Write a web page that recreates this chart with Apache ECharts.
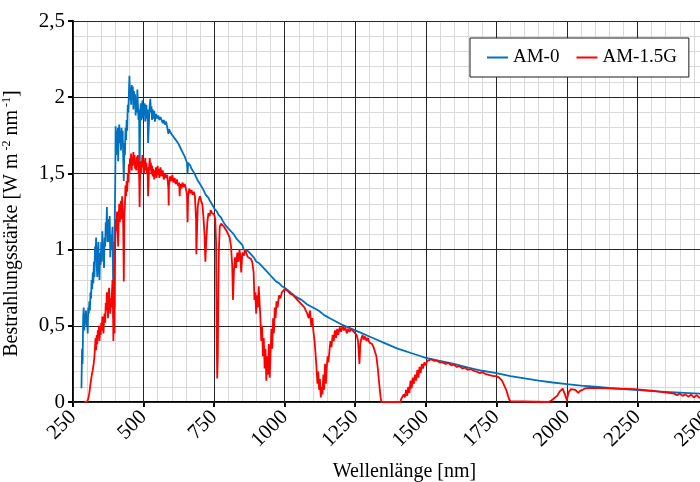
<!DOCTYPE html>
<html>
<head>
<meta charset="utf-8">
<script src="https://cdn.jsdelivr.net/npm/echarts@6/dist/echarts.min.js"></script>
<style>
  html, body { margin: 0; padding: 0; background: #fff; }
  #chart { width: 700px; height: 482px; }
</style>
</head>
<body>
<div id="chart"></div>
<script>
// Solar spectral irradiance, extraterrestrial (AM-0) and global tilt (AM-1.5G)
const seriesNames = ['AM-0', 'AM-1.5G'];
const xTicks = [250, 500, 750, 1000, 1250, 1500, 1750, 2000, 2250, 2500];
const yTicks = [0, 0.5, 1, 1.5, 2, 2.5];

// AM-0 wavelength [nm] and irradiance [W m-2 nm-1]
const am0Wavelength = [
  280, 282, 284, 286, 288, 290, 292, 294, 296, 298, 300, 302, 304, 306, 308, 310,
  312, 314, 316, 318, 320, 322, 324, 326, 328, 330, 332, 334, 336, 338, 340, 342,
  344, 346, 348, 350, 352, 354, 356, 358, 360, 362, 364, 366, 368, 370, 372, 374,
  376, 378, 380, 382, 384, 386, 388, 390, 392, 393, 394, 396, 397, 398, 400, 401,
  403, 405, 407, 409, 410, 412, 414, 416, 418, 420, 422, 424, 426, 428, 430, 432,
  434, 436, 438, 440, 442, 444, 446, 448, 450, 452, 454, 456, 458, 460, 462, 464,
  466, 468, 470, 472, 474, 476, 478, 480, 482, 484, 486, 488, 490, 492, 494, 496,
  498, 500, 502, 504, 506, 508, 510, 512, 514, 516, 518, 520, 522, 524, 526, 528,
  530, 532, 534, 536, 538, 540, 544, 548, 552, 556, 560, 564, 568, 572, 576, 580,
  584, 588, 590, 594, 598, 602, 606, 610, 614, 618, 622, 626, 630, 634, 638, 642,
  646, 650, 654, 656, 658, 662, 666, 670, 675, 680, 685, 690, 695, 700, 705, 710,
  715, 720, 725, 730, 735, 740, 745, 750, 755, 760, 765, 770, 775, 780, 785, 790,
  795, 800, 810, 820, 830, 840, 850, 855, 860, 870, 880, 890, 900, 910, 920, 930,
  940, 950, 960, 970, 980, 990, 1000, 1020, 1040, 1060, 1080, 1100, 1120, 1140,
  1160, 1180, 1200, 1225, 1250, 1275, 1300, 1325, 1350, 1375, 1400, 1425, 1450,
  1475, 1500, 1525, 1550, 1575, 1600, 1650, 1700, 1750, 1800, 1850, 1900, 1950,
  2000, 2050, 2100, 2150, 2200, 2250, 2300, 2350, 2400, 2450, 2500
];
const am0Irradiance = [
  0.09, 0.35, 0.25, 0.55, 0.62, 0.47, 0.58, 0.52, 0.60, 0.50, 0.56, 0.45, 0.62, 0.58, 0.66, 0.60,
  0.72, 0.68, 0.80, 0.74, 0.85, 0.78, 0.92, 0.82, 1.02, 0.95, 1.08, 0.90, 0.82, 0.95, 1.05, 0.88,
  0.80, 0.98, 0.90, 1.05, 0.92, 1.12, 0.96, 1.00, 0.88, 1.08, 1.02, 1.18, 1.10, 1.28, 1.05, 1.15,
  1.20, 1.05, 1.22, 0.95, 1.10, 1.00, 1.08, 1.15, 0.80, 0.55, 1.05, 0.90, 0.62, 1.20, 1.50, 1.81,
  1.62, 1.78, 1.70, 1.80, 1.58, 1.75, 1.82, 1.70, 1.78, 1.65, 1.80, 1.72, 1.78, 1.60, 1.45, 1.70,
  1.62, 1.80, 1.72, 1.85, 1.78, 1.95, 1.90, 2.02, 2.14, 1.98, 2.06, 1.95, 2.08, 2.00, 2.07, 1.92,
  2.04, 1.96, 2.02, 1.88, 1.98, 1.90, 2.05, 1.95, 1.85, 1.92, 1.47, 1.88, 1.96, 1.85, 1.90, 1.98,
  1.86, 1.94, 1.88, 1.96, 1.84, 1.90, 1.95, 1.86, 1.92, 1.70, 1.78, 1.88, 1.95, 1.99, 1.90, 1.94,
  1.85, 1.92, 1.88, 1.86, 1.91, 1.84, 1.89, 1.86, 1.88, 1.85, 1.87, 1.86, 1.83, 1.85, 1.82, 1.84,
  1.80, 1.76, 1.79, 1.78, 1.76, 1.77, 1.74, 1.75, 1.72, 1.73, 1.70, 1.69, 1.67, 1.66, 1.64, 1.63,
  1.61, 1.60, 1.57, 1.50, 1.57, 1.56, 1.55, 1.53, 1.52, 1.50, 1.48, 1.46, 1.45, 1.43, 1.42, 1.40,
  1.39, 1.36, 1.35, 1.34, 1.32, 1.31, 1.29, 1.27, 1.26, 1.25, 1.23, 1.22, 1.21, 1.19, 1.18, 1.16,
  1.15, 1.14, 1.12, 1.10, 1.07, 1.05, 1.03, 1.00, 1.01, 0.99, 0.97, 0.95, 0.92, 0.91, 0.89, 0.87,
  0.85, 0.83, 0.81, 0.79, 0.78, 0.76, 0.75, 0.72, 0.69, 0.67, 0.64, 0.62, 0.60, 0.57,
  0.55, 0.53, 0.51, 0.49, 0.47, 0.45, 0.43, 0.41, 0.39, 0.37, 0.35, 0.335, 0.32,
  0.305, 0.29, 0.28, 0.27, 0.26, 0.25, 0.225, 0.205, 0.19, 0.17, 0.155, 0.14, 0.128,
  0.117, 0.108, 0.10, 0.092, 0.085, 0.078, 0.072, 0.067, 0.062, 0.057, 0.052
];

// AM-1.5G wavelength [nm] and irradiance [W m-2 nm-1]
const am15gWavelength = [
  290, 296, 300, 304, 308, 312, 316, 320, 324, 326, 328, 330, 332, 334, 336, 338,
  340, 342, 344, 346, 348, 350, 352, 354, 356, 358, 360, 362, 364, 366, 368, 370,
  372, 374, 376, 378, 380, 382, 384, 386, 388, 390, 392, 393, 394, 396, 397, 398,
  400, 402, 404, 406, 408, 410, 412, 414, 416, 418, 420, 422, 424, 426, 428, 430,
  432, 434, 436, 438, 440, 442, 444, 446, 448, 450, 452, 454, 456, 458, 460, 462,
  464, 466, 468, 470, 472, 474, 476, 478, 480, 482, 484, 486, 488, 490, 492, 494,
  496, 498, 500, 502, 504, 506, 508, 510, 512, 514, 516, 518, 520, 522, 524, 526,
  528, 530, 532, 534, 536, 538, 540, 542, 544, 546, 548, 550, 552, 554, 556, 558,
  560, 564, 568, 572, 576, 580, 584, 588, 589, 590, 594, 598, 602, 606, 610, 614,
  618, 622, 626, 628, 630, 634, 638, 642, 646, 650, 654, 656, 658, 662, 666, 670,
  674, 678, 682, 686, 687, 689, 692, 696, 700, 704, 708, 712, 716, 719, 722, 726,
  730, 734, 738, 742, 746, 750, 754, 757, 759, 761, 763, 765, 767, 770, 775, 780,
  785, 790, 795, 800, 805, 810, 814, 817, 820, 824, 828, 832, 836, 840, 843, 846,
  850, 855, 860, 865, 870, 875, 880, 885, 890, 893, 896, 899, 902, 905, 908, 911,
  914, 917, 920, 923, 926, 929, 932, 935, 938, 941, 944, 947, 950, 953, 956, 959,
  962, 965, 968, 971, 975, 980, 985, 990, 995, 1000, 1010, 1020, 1030, 1040, 1050, 1060,
  1070, 1080, 1085, 1090, 1094, 1098, 1102, 1106, 1110, 1113, 1116, 1119, 1122, 1125, 1128, 1131,
  1134, 1137, 1140, 1143, 1146, 1149, 1152, 1155, 1159, 1162, 1166, 1170, 1174, 1178, 1182, 1186,
  1190, 1195, 1200, 1205, 1210, 1215, 1220, 1225, 1230, 1235, 1240, 1245, 1250, 1255, 1260, 1265,
  1268, 1272, 1276, 1280, 1285, 1290, 1295, 1300, 1305, 1310, 1315, 1320, 1325, 1330, 1335, 1340,
  1343, 1410, 1413, 1418, 1422, 1426, 1430, 1434, 1438, 1442, 1446, 1450, 1454, 1458, 1462, 1466,
  1470, 1474, 1478, 1482, 1486, 1490, 1495, 1500, 1505, 1510, 1520, 1530, 1540, 1550, 1560, 1570,
  1580, 1590, 1600, 1610, 1620, 1630, 1640, 1650, 1660, 1670, 1680, 1690, 1700, 1710, 1720, 1730,
  1740, 1750, 1760, 1770, 1775, 1780, 1785, 1790, 1795, 1800, 1805, 1935, 1945, 1955, 1965, 1975,
  1985, 1992, 1997, 2000, 2003, 2008, 2015, 2022, 2030, 2040, 2048, 2056, 2065, 2080, 2100, 2120,
  2150, 2180, 2210, 2240, 2270, 2300, 2320, 2340, 2360, 2380, 2390, 2400, 2410, 2420, 2430, 2440,
  2450, 2460, 2470, 2480, 2490, 2500
];
const am15gIrradiance = [
  0, 0, 0.003, 0.02, 0.06, 0.12, 0.17, 0.21, 0.26, 0.30, 0.36, 0.42, 0.34, 0.44, 0.38, 0.47,
  0.43, 0.50, 0.40, 0.48, 0.44, 0.52, 0.47, 0.56, 0.50, 0.45, 0.55, 0.58, 0.52, 0.65, 0.60, 0.72,
  0.62, 0.55, 0.70, 0.75, 0.64, 0.58, 0.68, 0.62, 0.72, 0.80, 0.60, 0.40, 0.76, 0.70, 0.45, 0.85,
  1.05, 1.20, 1.12, 1.25, 1.15, 1.02, 1.22, 1.30, 1.18, 1.25, 1.32, 1.20, 1.35, 1.28, 1.15, 0.79,
  1.22, 1.30, 1.42, 1.35, 1.45, 1.38, 1.50, 1.44, 1.56, 1.50, 1.60, 1.55, 1.63, 1.52, 1.60, 1.55,
  1.64, 1.56, 1.62, 1.53, 1.58, 1.52, 1.61, 1.55, 1.62, 1.50, 1.56, 1.28, 1.52, 1.58, 1.50, 1.56,
  1.62, 1.54, 1.58, 1.50, 1.55, 1.60, 1.52, 1.57, 1.50, 1.54, 1.35, 1.45, 1.55, 1.60, 1.52, 1.57,
  1.50, 1.55, 1.48, 1.53, 1.50, 1.46, 1.52, 1.48, 1.54, 1.47, 1.51, 1.55, 1.49, 1.53, 1.47, 1.50,
  1.54, 1.48, 1.52, 1.46, 1.50, 1.47, 1.49, 1.40, 1.29, 1.42, 1.48, 1.45, 1.49, 1.44, 1.47, 1.43,
  1.46, 1.42, 1.44, 1.35, 1.43, 1.40, 1.44, 1.41, 1.43, 1.40, 1.36, 1.18, 1.35, 1.40, 1.37, 1.39,
  1.36, 1.38, 1.35, 1.20, 0.97, 1.10, 1.28, 1.33, 1.35, 1.32, 1.30, 1.22, 1.10, 0.92, 1.05, 1.18,
  1.24, 1.22, 1.26, 1.24, 1.25, 1.23, 1.20, 1.05, 0.45, 0.155, 0.30, 0.70, 1.00, 1.15, 1.17, 1.16,
  1.15, 1.14, 1.12, 1.10, 1.08, 1.02, 0.90, 0.67, 0.85, 0.95, 0.88, 0.98, 0.92, 1.00, 0.95, 0.85,
  0.98, 0.96, 1.00, 0.97, 0.95, 0.96, 0.94, 0.92, 0.85, 0.67, 0.72, 0.58, 0.70, 0.62, 0.76, 0.66,
  0.55, 0.40, 0.50, 0.30, 0.42, 0.22, 0.35, 0.14, 0.30, 0.18, 0.38, 0.16, 0.32, 0.48, 0.35, 0.55,
  0.45, 0.62, 0.55, 0.66, 0.62, 0.70, 0.68, 0.72, 0.71, 0.74, 0.73, 0.71, 0.70, 0.68, 0.66, 0.64,
  0.62, 0.58, 0.55, 0.60, 0.50, 0.55, 0.46, 0.40, 0.30, 0.22, 0.12, 0.20, 0.08, 0.15, 0.03, 0.10,
  0.05, 0.18, 0.08, 0.25, 0.12, 0.22, 0.30, 0.26, 0.34, 0.40, 0.36, 0.44, 0.40, 0.47, 0.42, 0.48,
  0.44, 0.49, 0.46, 0.50, 0.47, 0.49, 0.45, 0.48, 0.46, 0.48, 0.47, 0.46, 0.46, 0.44, 0.40, 0.25,
  0.38, 0.42, 0.44, 0.41, 0.43, 0.40, 0.42, 0.39, 0.40, 0.38, 0.36, 0.35, 0.30, 0.22, 0.12, 0.03,
  0, 0, 0.02, 0.01, 0.05, 0.03, 0.08, 0.04, 0.10, 0.06, 0.14, 0.09, 0.16, 0.12, 0.18, 0.14,
  0.21, 0.16, 0.23, 0.19, 0.25, 0.22, 0.26, 0.24, 0.27, 0.26, 0.28, 0.27, 0.27, 0.26, 0.26, 0.25,
  0.255, 0.24, 0.245, 0.23, 0.235, 0.22, 0.225, 0.21, 0.215, 0.205, 0.20, 0.19, 0.195, 0.185, 0.18, 0.175,
  0.17, 0.17, 0.16, 0.14, 0.12, 0.10, 0.08, 0.05, 0.02, 0.005, 0, 0, 0.01, 0.025, 0.04, 0.07,
  0.088, 0.08, 0.03, 0.01, 0.04, 0.07, 0.085, 0.094, 0.08, 0.06, 0.075, 0.08, 0.09, 0.092, 0.093, 0.092,
  0.09, 0.088, 0.086, 0.084, 0.08, 0.075, 0.07, 0.065, 0.06, 0.055, 0.045, 0.055, 0.04, 0.05, 0.035, 0.048,
  0.03, 0.045, 0.028, 0.04, 0.025, 0.035
];

const zip = (xs, ys) => xs.map((x, i) => [x, ys[i]]);

const serif = 'Liberation Serif';
const xRange = { min: xTicks[0], max: xTicks[xTicks.length - 1], interval: xTicks[1] - xTicks[0] };
const yRange = { min: yTicks[0], max: yTicks[yTicks.length - 1], interval: yTicks[1] - yTicks[0] };
const minorGrid = { show: true, lineStyle: { color: '#d9d9d9', width: 1 } };
const majorGrid = { show: true, lineStyle: { color: '#262626', width: 1 } };
const hidden = { show: false };

const chart = echarts.init(document.getElementById('chart'), null, { renderer: 'canvas' });

chart.setOption({
  animation: false,
  backgroundColor: '#ffffff',
  grid: { left: 73, top: 21, width: 635, height: 381, containLabel: false, outerBoundsMode: 'none' },
  legend: {
    left: 470,
    top: 38,
    padding: [10, 12, 10, 17],
    backgroundColor: '#ffffff',
    borderColor: '#1a1a1a',
    borderWidth: 1,
    borderRadius: 0,
    icon: 'rect',
    itemWidth: 21,
    itemHeight: 2,
    itemGap: 17,
    textStyle: { fontFamily: serif, fontSize: 19, color: '#000' },
    data: seriesNames
  },
  xAxis: [
    {
      type: 'value',
      ...xRange,
      z: 0,
      name: 'Wellenlänge [nm]',
      nameLocation: 'middle',
      nameGap: 60,
      nameTextStyle: { fontFamily: serif, fontSize: 20, color: '#000', padding: [0, 0, 0, 28] },
      axisLine: { show: true, onZero: false, lineStyle: { color: '#000', width: 2 } },
      axisTick: { show: true, length: 5, lineStyle: { color: '#000', width: 2 } },
      axisLabel: {
        rotate: 45, margin: 12, fontFamily: serif, fontSize: 21, color: '#000',
        showMinLabel: true, showMaxLabel: true,
        formatter: v => String(v)
      },
      splitLine: hidden,
      minorTick: { show: false, splitNumber: 5 },
      minorSplitLine: minorGrid
    },
    {
      // major gridlines, stacked above the minor ones
      type: 'value',
      ...xRange,
      z: 1,
      position: 'bottom',
      axisLine: hidden,
      axisTick: hidden,
      axisLabel: hidden,
      splitLine: majorGrid
    }
  ],
  yAxis: [
    {
      type: 'value',
      ...yRange,
      z: 0,
      name: '{a|Bestrahlungsstärke [W m}{s| -2}{a| nm}{s| -1}{a|]}',
      nameLocation: 'middle',
      nameGap: 50,
      nameTextStyle: {
        color: '#000',
        padding: [0, 24, 0, 0],
        rich: {
          a: { fontFamily: serif, fontSize: 20, color: '#000', lineHeight: 22 },
          s: { fontFamily: serif, fontSize: 12, color: '#000', verticalAlign: 'top', lineHeight: 22 }
        }
      },
      axisLine: { show: true, lineStyle: { color: '#000', width: 2 } },
      axisTick: { show: true, length: 5, lineStyle: { color: '#000', width: 2 } },
      axisLabel: {
        margin: 8, fontFamily: serif, fontSize: 21, color: '#000',
        formatter: v => String(v).replace('.', ',')
      },
      splitLine: hidden,
      minorTick: { show: false, splitNumber: 5 },
      minorSplitLine: minorGrid
    },
    {
      type: 'value',
      ...yRange,
      z: 1,
      position: 'left',
      axisLine: hidden,
      axisTick: hidden,
      axisLabel: hidden,
      splitLine: majorGrid
    }
  ],
  series: [
    {
      name: seriesNames[0],
      type: 'line',
      z: 3,
      showSymbol: false,
      symbol: 'none',
      color: '#0070C0',
      lineStyle: { color: '#0070C0', width: 1.8 },
      data: zip(am0Wavelength, am0Irradiance)
    },
    {
      name: seriesNames[1],
      type: 'line',
      z: 3,
      showSymbol: false,
      symbol: 'none',
      color: '#FF0000',
      lineStyle: { color: '#FF0000', width: 1.8 },
      data: zip(am15gWavelength, am15gIrradiance)
    }
  ]
});
</script>
</body>
</html>
